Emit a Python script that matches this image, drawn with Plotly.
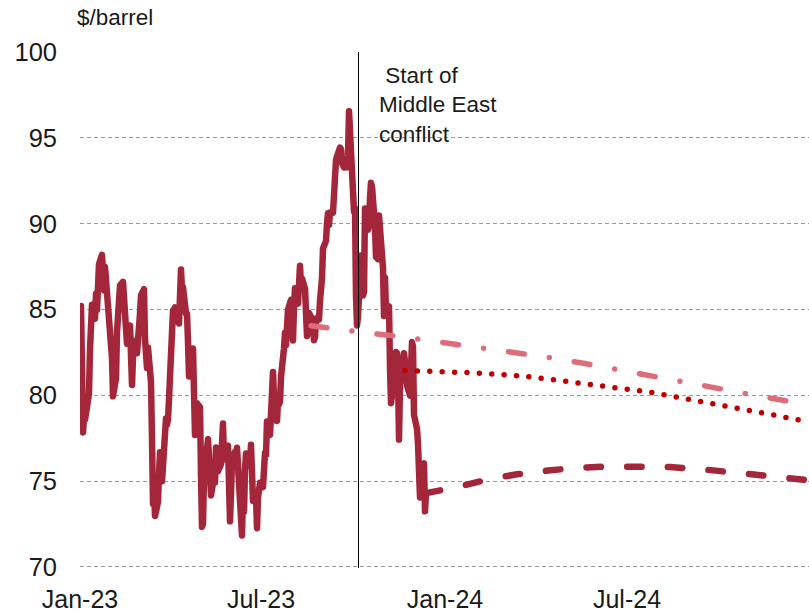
import plotly.graph_objects as go

# Brent crude, daily close ($/barrel)
brent_dates = [
    "2023-01-02", "2023-01-03", "2023-01-04", "2023-01-05", "2023-01-06", "2023-01-09", "2023-01-10",
    "2023-01-11", "2023-01-12", "2023-01-13", "2023-01-16", "2023-01-17", "2023-01-18", "2023-01-19",
    "2023-01-20", "2023-01-23", "2023-01-24", "2023-01-25", "2023-01-26", "2023-01-27", "2023-01-30",
    "2023-01-31", "2023-02-01", "2023-02-02", "2023-02-03", "2023-02-06", "2023-02-07", "2023-02-08",
    "2023-02-09", "2023-02-10", "2023-02-13", "2023-02-14", "2023-02-15", "2023-02-16", "2023-02-17",
    "2023-02-20", "2023-02-21", "2023-02-22", "2023-02-23", "2023-02-24", "2023-02-27", "2023-02-28",
    "2023-03-01", "2023-03-02", "2023-03-03", "2023-03-06", "2023-03-07", "2023-03-08", "2023-03-09",
    "2023-03-10", "2023-03-13", "2023-03-14", "2023-03-15", "2023-03-16", "2023-03-17", "2023-03-20",
    "2023-03-21", "2023-03-22", "2023-03-23", "2023-03-24", "2023-03-27", "2023-03-28", "2023-03-29",
    "2023-03-30", "2023-03-31", "2023-04-03", "2023-04-04", "2023-04-05", "2023-04-06", "2023-04-10",
    "2023-04-11", "2023-04-12", "2023-04-13", "2023-04-14", "2023-04-17", "2023-04-18", "2023-04-19",
    "2023-04-20", "2023-04-21", "2023-04-24", "2023-04-25", "2023-04-26", "2023-04-27", "2023-04-28",
    "2023-05-01", "2023-05-02", "2023-05-03", "2023-05-04", "2023-05-05", "2023-05-08", "2023-05-09",
    "2023-05-10", "2023-05-11", "2023-05-12", "2023-05-15", "2023-05-16", "2023-05-17", "2023-05-18",
    "2023-05-19", "2023-05-22", "2023-05-23", "2023-05-24", "2023-05-25", "2023-05-26", "2023-05-29",
    "2023-05-30", "2023-05-31", "2023-06-01", "2023-06-02", "2023-06-05", "2023-06-06", "2023-06-07",
    "2023-06-08", "2023-06-09", "2023-06-12", "2023-06-13", "2023-06-14", "2023-06-15", "2023-06-16",
    "2023-06-19", "2023-06-20", "2023-06-21", "2023-06-22", "2023-06-23", "2023-06-26", "2023-06-27",
    "2023-06-28", "2023-06-29", "2023-06-30", "2023-07-03", "2023-07-04", "2023-07-05", "2023-07-06",
    "2023-07-07", "2023-07-10", "2023-07-11", "2023-07-12", "2023-07-13", "2023-07-14", "2023-07-17",
    "2023-07-18", "2023-07-19", "2023-07-20", "2023-07-21", "2023-07-24", "2023-07-25", "2023-07-26",
    "2023-07-27", "2023-07-28", "2023-07-31", "2023-08-01", "2023-08-02", "2023-08-03", "2023-08-04",
    "2023-08-07", "2023-08-08", "2023-08-09", "2023-08-10", "2023-08-11", "2023-08-14", "2023-08-15",
    "2023-08-16", "2023-08-17", "2023-08-18", "2023-08-21", "2023-08-22", "2023-08-23", "2023-08-24",
    "2023-08-25", "2023-08-28", "2023-08-29", "2023-08-30", "2023-08-31", "2023-09-01", "2023-09-04",
    "2023-09-05", "2023-09-06", "2023-09-07", "2023-09-08", "2023-09-11", "2023-09-12", "2023-09-13",
    "2023-09-14", "2023-09-15", "2023-09-18", "2023-09-19", "2023-09-20", "2023-09-21", "2023-09-22",
    "2023-09-25", "2023-09-26", "2023-09-27", "2023-09-28", "2023-09-29", "2023-10-02", "2023-10-03",
    "2023-10-04", "2023-10-05", "2023-10-06", "2023-10-09", "2023-10-10", "2023-10-11", "2023-10-12",
    "2023-10-13", "2023-10-16", "2023-10-17", "2023-10-18", "2023-10-19", "2023-10-20", "2023-10-23",
    "2023-10-24", "2023-10-25", "2023-10-26", "2023-10-27", "2023-10-30", "2023-10-31", "2023-11-01",
    "2023-11-02", "2023-11-03", "2023-11-06", "2023-11-07", "2023-11-08", "2023-11-09", "2023-11-10",
    "2023-11-13", "2023-11-14", "2023-11-15", "2023-11-16", "2023-11-17", "2023-11-20", "2023-11-21",
    "2023-11-22", "2023-11-23", "2023-11-24", "2023-11-27", "2023-11-28", "2023-11-29", "2023-11-30",
    "2023-12-01", "2023-12-04", "2023-12-05", "2023-12-06", "2023-12-07", "2023-12-08", "2023-12-11",
    "2023-12-12", "2023-12-13",
]
brent_usd = [
    85.20, 82.10, 77.84, 78.69, 78.57, 79.65, 80.10,
    82.67, 84.03, 85.28, 84.46, 85.92, 84.98, 86.16,
    87.63, 88.19, 86.13, 86.12, 87.47, 86.66, 84.90,
    84.49, 82.84, 82.17, 79.94, 80.99, 83.69, 85.09,
    84.50, 86.39, 86.61, 85.58, 85.38, 85.14, 83.00,
    84.07, 83.05, 80.60, 82.21, 83.16, 82.45, 83.89,
    84.31, 84.75, 85.83, 86.18, 83.29, 82.66, 81.59,
    82.78, 80.77, 77.45, 73.69, 74.70, 72.97, 73.79,
    75.32, 76.69, 75.91, 74.99, 78.12, 78.65, 78.28,
    78.60, 79.77, 84.93, 84.94, 84.99, 85.12, 84.18,
    85.61, 87.33, 86.09, 86.31, 84.76, 84.77, 83.12,
    81.10, 81.66, 82.73, 80.77, 77.69, 78.37, 79.54,
    79.31, 75.32, 72.33, 72.50, 75.30, 77.01, 77.44,
    76.41, 74.98, 74.17, 75.23, 74.91, 76.96, 75.86,
    75.58, 75.99, 76.84, 78.36, 76.26, 76.95, 77.07,
    73.54, 72.66, 74.28, 76.13, 76.71, 76.29, 76.95,
    75.96, 74.79, 71.84, 74.29, 73.20, 75.67, 76.61,
    76.09, 75.90, 77.12, 74.14, 73.85, 74.18, 72.26,
    74.03, 74.34, 74.90, 74.65, 76.25, 76.65, 76.52,
    78.47, 77.69, 79.40, 80.11, 81.36, 79.87, 78.50,
    79.63, 79.46, 79.64, 81.07, 82.74, 83.64, 82.92,
    84.24, 84.99, 85.56, 84.91, 83.20, 85.14, 86.24,
    85.34, 86.17, 87.55, 86.40, 86.81, 86.21, 84.89,
    83.45, 84.12, 84.80, 84.46, 84.03, 83.21, 83.36,
    84.48, 84.42, 85.49, 85.86, 86.83, 88.55, 89.00,
    90.04, 90.60, 89.92, 90.65, 90.64, 92.06, 91.88,
    93.70, 93.93, 94.43, 94.34, 93.53, 93.30, 93.27,
    93.29, 93.96, 96.55, 95.38, 95.31, 90.71, 90.92,
    85.81, 84.07, 84.58, 88.15, 87.65, 85.82, 86.00,
    90.89, 89.65, 89.90, 91.50, 92.38, 92.16, 89.83,
    88.07, 90.13, 87.93, 90.48, 87.45, 87.41, 84.63,
    86.85, 84.89, 85.18, 81.61, 79.54, 80.01, 81.43,
    82.52, 82.47, 81.18, 77.42, 80.61, 82.32, 82.45,
    81.96, 81.42, 80.58, 79.98, 81.68, 83.10, 82.83,
    78.88, 78.03, 77.20, 74.30, 74.05, 75.84, 76.03,
    73.24, 74.26,
]

# Futures curves taken at three points in time
curve_aug_dates = [
    "2023-08-20", "2023-09-20", "2023-10-20", "2023-11-20", "2023-12-20", "2024-01-20",
    "2024-02-20", "2024-03-20", "2024-04-20", "2024-05-20", "2024-06-20", "2024-07-20",
    "2024-08-20", "2024-09-20", "2024-10-20", "2024-11-20", "2024-12-20", "2024-12-31",
]
curve_aug_usd = [
    84.05, 83.80, 83.60, 83.40, 83.15, 82.90,
    82.70, 82.45, 82.15, 81.85, 81.50, 81.20,
    80.85, 80.50, 80.15, 79.85, 79.55, 79.40,
]

curve_nov_dates = [
    "2023-11-22", "2023-12-22", "2024-01-22", "2024-02-22", "2024-03-22", "2024-04-22",
    "2024-05-22", "2024-06-22", "2024-07-22", "2024-08-22", "2024-09-22", "2024-10-22",
    "2024-11-22", "2024-12-22", "2024-12-31",
]
curve_nov_usd = [
    81.44, 81.40, 81.33, 81.23, 81.10, 80.88,
    80.66, 80.45, 80.20, 79.88, 79.55, 79.22,
    78.88, 78.55, 78.45,
]

curve_dec_dates = [
    "2023-12-13", "2024-01-13", "2024-02-13", "2024-03-13", "2024-04-13", "2024-05-13",
    "2024-06-13", "2024-07-13", "2024-08-13", "2024-09-13", "2024-10-13", "2024-11-13",
    "2024-12-13", "2024-12-31",
]
curve_dec_usd = [
    74.30, 74.65, 75.10, 75.40, 75.62, 75.78,
    75.85, 75.87, 75.82, 75.70, 75.52, 75.35,
    75.15, 75.05,
]

tick_dates = ["2023-01-01", "2023-07-01", "2024-01-01", "2024-07-01"]
tick_labels = ["Jan-23", "Jul-23", "Jan-24", "Jul-24"]

# marker line for 7 Oct 2023 (drawn at mid-day so it lands on a whole pixel)
conflict_start = "2023-10-06 12:00"

DARK_RED = "#A3263A"
PINK = "#DE6D7B"
RED = "#C00000"
TEXT = "#1a1a1a"
FONT = "Liberation Sans, Arial, Helvetica, sans-serif"

fig = go.Figure()

fig.add_trace(go.Scatter(
    x=brent_dates, y=brent_usd, mode="lines",
    line=dict(color=DARK_RED, width=6.5), hoverinfo="skip",
))
fig.add_trace(go.Scatter(
    x=curve_aug_dates, y=curve_aug_usd, mode="lines",
    line=dict(color=PINK, width=5.5, dash="16px,25.2px,0px,25.2px"), hoverinfo="skip",
))
fig.add_trace(go.Scatter(
    x=curve_nov_dates, y=curve_nov_usd, mode="lines",
    line=dict(color=RED, width=5.5, dash="0px,12.4px"), hoverinfo="skip",
))
fig.add_trace(go.Scatter(
    x=curve_dec_dates, y=curve_dec_usd, mode="lines",
    line=dict(color=DARK_RED, width=6.5, dash="14.5px,26.2px"), hoverinfo="skip",
))

fig.add_shape(
    type="line", xref="x", yref="paper",
    x0=conflict_start, x1=conflict_start, y0=0, y1=1,
    line=dict(color="black", width=1),
)

fig.add_annotation(
    xref="paper", yref="paper", x=(377 - 80) / 729, y=(567 - 61) / 515,
    xanchor="left", yanchor="top", align="left", showarrow=False,
    text="\u00a0Start of<br>Middle East<br>conflict",
    font=dict(size=22.5, color=TEXT, family=FONT),
)
fig.add_annotation(
    xref="paper", yref="paper", x=(75 - 80) / 729, y=(567 - 18) / 515,
    xanchor="left", yanchor="middle", showarrow=False,
    text="$/barrel",
    font=dict(size=22.5, color=TEXT, family=FONT),
)

fig.update_layout(
    width=809, height=616,
    margin=dict(l=80, r=0, t=52, b=48),
    plot_bgcolor="white", paper_bgcolor="white",
    showlegend=False,
    font=dict(family=FONT, color=TEXT),
)
fig.update_xaxes(
    type="date", range=["2023-01-01", "2024-12-30"],
    tickmode="array", tickvals=tick_dates, ticktext=tick_labels,
    showgrid=False, zeroline=False, showline=False, ticks="",
    tickfont=dict(size=25, color=TEXT), ticklabelstandoff=14,
)
fig.update_yaxes(
    range=[69.94, 100], tick0=70, dtick=5,
    showgrid=True, gridcolor="#9a9a9a", gridwidth=1, griddash="4px,3px",
    zeroline=False, showline=False, ticks="",
    tickfont=dict(size=25.5, color=TEXT), ticklabelstandoff=22,
)

round_caps = """
var s = document.createElement('style');
s.innerHTML = '.scatterlayer .js-line{stroke-linecap:round !important;stroke-linejoin:round !important;}';
document.head.appendChild(s);
"""

fig.write_html("out.html", post_script=round_caps)
